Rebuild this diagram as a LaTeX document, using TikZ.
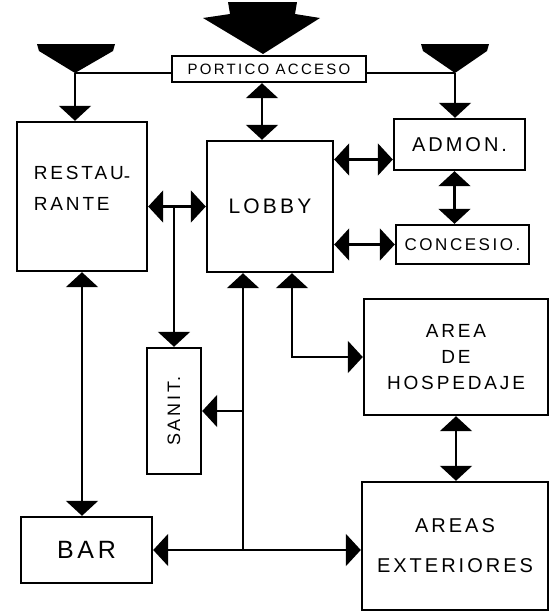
\documentclass[tikz,border=0pt]{standalone}
\usepackage{fontspec}
\newfontfamily\handfont[LetterSpace=15]{Liberation Sans}
\usetikzlibrary{arrows.meta}

\begin{document}
\begin{tikzpicture}[
    x=1pt, y=-1pt,
    box/.style={draw, line width=2.4pt, inner sep=0pt, align=center, font=\handfont\fontsize{19}{26}\selectfont},
    line/.style={line width=2.2pt},
    arrow/.style={line, -{Triangle[length=15pt,width=32pt]}},
    twoway/.style={line, {Triangle[length=15pt,width=32pt]}-{Triangle[length=15pt,width=32pt]}},
    entry/.style={fill=black}
  ]
  \useasboundingbox (0,0) rectangle (549,616);

  % boxes
  \node[box, minimum width=194pt, minimum height=26pt, font=\handfont\fontsize{15}{16}\selectfont] (portico) at (269,69) {PORTICO ACCESO};
  \node[box, minimum width=130pt, minimum height=149pt, align=left, text depth=16pt, font=\handfont\fontsize{19}{31}\selectfont] (restaurante) at (82,196.5) {RESTAU\raisebox{-3pt}{-}\\RANTE};
  \node[box, minimum width=126pt, minimum height=131pt, font=\handfont\fontsize{21}{22}\selectfont] (lobby) at (270,206.5) {LOBBY};
  \node[box, minimum width=131pt, minimum height=51pt, font=\handfont\fontsize{20}{22}\selectfont] (admon) at (459.5,144.5) {ADMON.};
  \node[box, minimum width=133pt, minimum height=39pt, font=\handfont\fontsize{17}{18}\selectfont] (concesio) at (462.5,244.5) {CONCESIO.};
  \node[box, minimum width=54pt, minimum height=126pt, font=\handfont\fontsize{18}{20}\selectfont] (sanit) at (174,411) {\rotatebox{90}{SANIT.}};
  \node[box, minimum width=184pt, minimum height=116pt] (hosped) at (456,357) {AREA\\DE\\HOSPEDAJE};
  \node[box, minimum width=186pt, minimum height=128pt, font=\handfont\fontsize{20}{40}\selectfont] (exteriores) at (455,546) {AREAS\\EXTERIORES};
  \node[box, minimum width=131pt, minimum height=66pt, font=\handfont\fontsize{25}{26}\selectfont] (bar) at (86.5,550) {BAR};

  % entrances
  \coordinate (inL) at (75,73);
  \coordinate (inR) at (455,73);
  \coordinate (inTop) at (263,54);
  \fill[entry] (inTop) -- ++(-60,-36) -- ++(27,-4) -- ++(-2,-12) -- ++(69,0) -- ++(-2,12) -- ++(25,4) -- cycle;
  \fill[entry] (inL) -- ++(-36,-22) -- ++(-2,-7) -- ++(78,0) -- ++(-2,7) -- cycle;
  \fill[entry] (inR) -- ++(-32,-22) -- ++(-2,-7) -- ++(68,0) -- ++(-2,7) -- cycle;

  % connections
  \draw[line] (inL) -- (inL -| portico.west);
  \draw[arrow] (inL) -- (inL |- restaurante.north);
  \draw[line] (inR) -- (inR -| portico.east);
  \draw[arrow] (inR) -- (inR |- admon.north);
  \draw[twoway] ([xshift=-7pt]portico.south) -- ([xshift=-7pt]portico.south |- lobby.north);
  \draw[twoway] (lobby.west -| restaurante.east) -- (lobby.west);
  \coordinate (sanitTap) at (sanit.north |- lobby.west);
  \draw[arrow] (sanitTap) -- (sanit.north);
  \draw[twoway] ([yshift=-15pt]admon.west -| lobby.east) -- ([yshift=-15pt]admon.west);
  \draw[twoway] (concesio.west -| lobby.east) -- (concesio.west);
  \draw[twoway] ([xshift=-5pt]admon.south) -- ([xshift=-5pt]admon.south |- concesio.north);
  \draw[twoway] (restaurante.south) -- (restaurante.south |- bar.north);
  \draw[twoway] (bar.east) -- (bar.east -| exteriores.west);
  \coordinate (barTap) at ([xshift=-27pt]lobby.south |- bar.east);
  \draw[arrow] (barTap) -- ([xshift=-27pt]lobby.south);
  \draw[arrow] (sanit.east -| barTap) -- (sanit.east);
  \draw[twoway] ([xshift=22pt]lobby.south) |- (hosped.west);
  \draw[twoway] (hosped.south) -- (hosped.south |- exteriores.north);
\end{tikzpicture}
\end{document}
